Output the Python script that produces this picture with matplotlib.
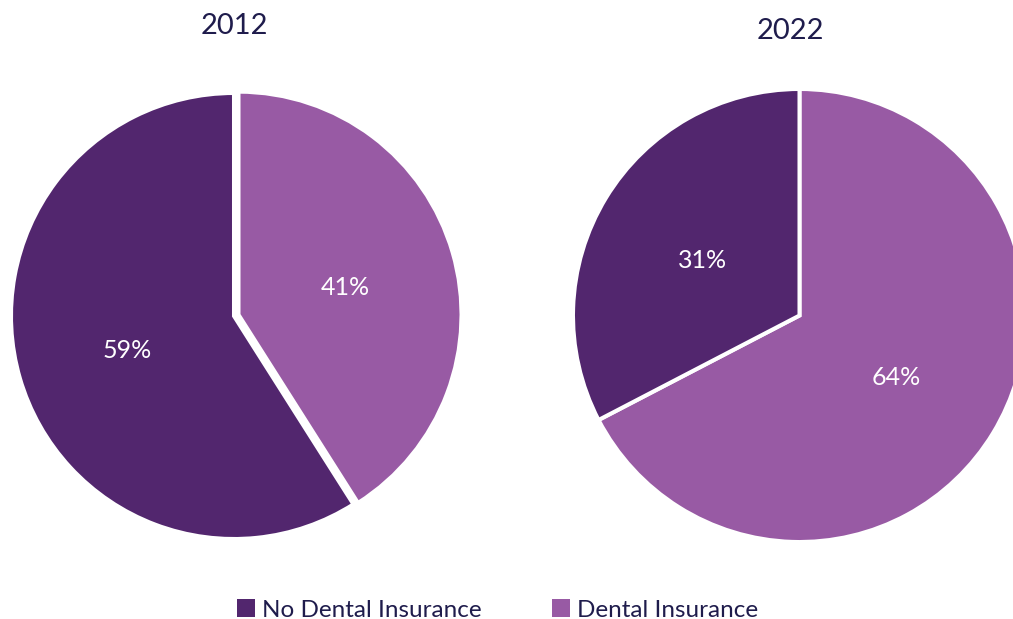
import matplotlib.pyplot as plt
from matplotlib.patches import Patch
from matplotlib.transforms import ScaledTranslation

plt.rcParams['font.family'] = ['Lato', 'DejaVu Sans']

years = ["2012", "2022"]
categories = ["No Dental Insurance", "Dental Insurance"]
no_dental = [59, 31]
dental = [41, 64]

dark = "#52266E"
light = "#985AA4"
navy = "#1F1C4C"

W, H = 1013, 619
fig = plt.figure(figsize=(W / 100, H / 100), dpi=100)

# pie centres and radii in pixels
layout = [
    dict(cx=234, cy=316, r=223, explode=0.021, title_x=234.5, title_y=26),
    dict(cx=799.5, cy=315.5, r=226.5, explode=0.0, title_x=790, title_y=31),
]

for i, year in enumerate(years):
    L = layout[i]
    ax = fig.add_axes([(L["cx"] - L["r"]) / W, (H - L["cy"] - L["r"]) / H,
                       2 * L["r"] / W, 2 * L["r"] / H])
    vals = [dental[i], no_dental[i]]
    labels_iter = iter(vals)
    wedges, texts, autotexts = ax.pie(
        vals, colors=[light, dark], startangle=90, counterclock=False,
        explode=[L["explode"], 0], radius=1,
        wedgeprops=dict(edgecolor="white", linewidth=2.9),
        autopct=lambda p, it=labels_iter: f"{next(it)}%",
        pctdistance=0.5,
        textprops=dict(color="white", fontsize=18))
    # nudge the percentage labels down a few pixels
    for t in autotexts:
        t.set_transform(ax.transData + ScaledTranslation(0, -3.5 / 100, fig.dpi_scale_trans))
    ax.set_xlim(-1, 1)
    ax.set_ylim(-1, 1)
    ax.axis("off")
    fig.text(L["title_x"] / W, 1 - L["title_y"] / H, year, ha="center", va="center",
             fontsize=21, color=navy)

handles = [Patch(facecolor=dark), Patch(facecolor=light)]
fig.legend(handles, categories, loc="center", bbox_to_anchor=(497.5 / W, 1 - 610 / H),
           ncol=2, frameon=False, fontsize=17.5, labelcolor=navy,
           handlelength=0.74, handleheight=0.74, handletextpad=0.3, columnspacing=2.9)

fig.savefig("out.png", dpi=100)
